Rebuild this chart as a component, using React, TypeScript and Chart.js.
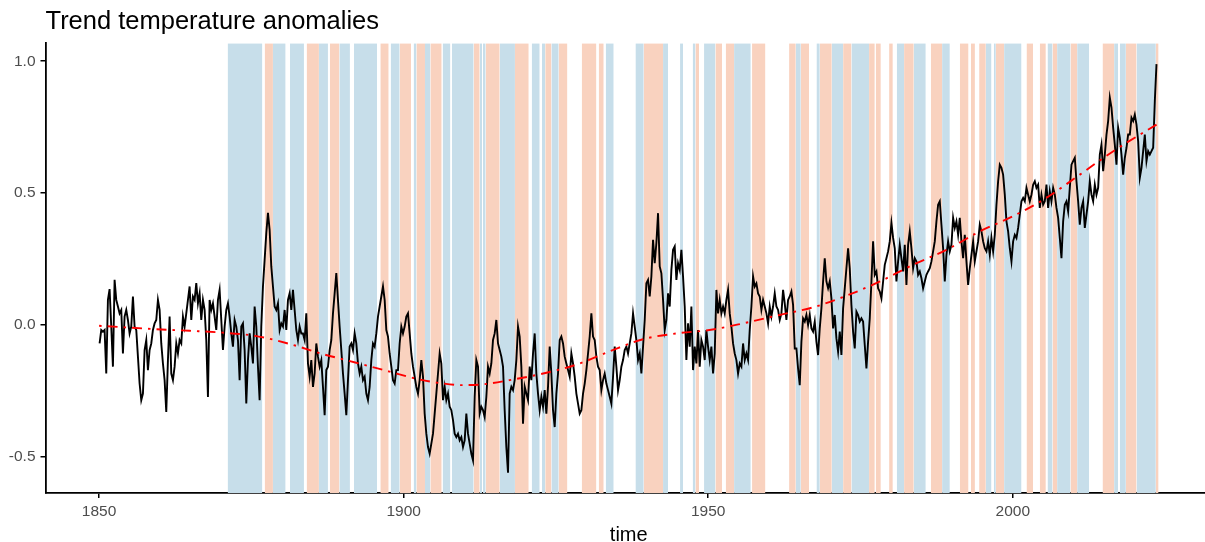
import React, { useEffect, useRef } from 'react';
import { Chart, registerables } from 'chart.js';

Chart.register(...registerables);

const TITLE = 'Trend temperature anomalies';
const X_LABEL = 'time';
const X_TICKS = [1850, 1900, 1950, 2000];
const Y_TICKS = [-0.5, 0.0, 0.5, 1.0];
const X_MIN = 1841.2;
const X_MAX = 2032.7;
const Y_MIN = -0.637;
const Y_MAX = 1.068;

// monthly-ish anomaly series, sampled at a regular time step from the picture
const SERIES_START = 1850.08;
const SERIES_STEP = 0.27367;
const ANOMALY = [
  -0.070, -0.019, -0.025, -0.019, -0.184, 0.095, 0.136, -0.006, -0.158, 0.171,
  0.095, 0.070, 0.044, 0.057, -0.108, 0.032, 0.057, 0.019, -0.032, -0.006,
  0.108, -0.006, -0.019, -0.120, -0.222, -0.285, -0.260, -0.095, -0.057, -0.171,
  -0.095, -0.070, -0.019, 0.006, 0.019, 0.095, 0.057, -0.070, -0.146, -0.209,
  -0.330, -0.133, 0.032, -0.184, -0.209, -0.158, -0.070, -0.108, -0.057, -0.070,
  0.032, -0.006, 0.044, 0.095, 0.146, 0.019, 0.108, 0.095, 0.159, 0.082,
  0.120, 0.019, 0.095, 0.057, -0.057, -0.273, 0.095, 0.057, 0.082, 0.032,
  -0.019, 0.095, 0.133, 0.019, -0.095, -0.006, 0.057, 0.082, 0.032, -0.032,
  -0.082, 0.019, -0.006, -0.057, -0.209, -0.006, 0.006, -0.095, -0.298, -0.133,
  -0.032, -0.082, -0.146, 0.070, -0.006, -0.158, -0.285, -0.006, 0.146, 0.247,
  0.349, 0.425, 0.361, 0.222, 0.146, 0.070, 0.057, 0.082, -0.019, 0.006,
  -0.006, 0.057, -0.019, 0.095, 0.120, 0.057, 0.133, 0.057, -0.019, -0.057,
  -0.006, -0.032, -0.032, -0.057, 0.044, -0.146, -0.196, -0.133, -0.235, -0.184,
  -0.070, -0.120, -0.158, -0.133, -0.235, -0.342, -0.171, -0.158, -0.095, -0.057,
  0.044, 0.120, 0.197, 0.095, -0.006, -0.095, -0.184, -0.260, -0.342, -0.209,
  -0.082, -0.070, -0.095, -0.032, -0.070, -0.146, -0.184, -0.158, -0.209, -0.196,
  -0.260, -0.285, -0.235, -0.133, -0.070, -0.082, -0.032, 0.032, 0.070, 0.108,
  0.146, 0.095, -0.019, -0.044, -0.108, -0.158, -0.209, -0.222, -0.171, -0.171,
  -0.070, -0.006, -0.032, -0.006, 0.032, 0.044, -0.032, -0.108, -0.158, -0.196,
  -0.235, -0.260,
  -0.209, -0.133, -0.196, -0.336, -0.412, -0.463, -0.488, -0.450, -0.412, -0.336,
  -0.260, -0.184, -0.108, -0.146, -0.285, -0.234, -0.285, -0.260, -0.310, -0.323,
  -0.361, -0.412, -0.425, -0.412, -0.437, -0.425, -0.463, -0.437, -0.336, -0.412,
  -0.450, -0.488, -0.513, -0.272, -0.133, -0.158, -0.336, -0.310, -0.323, -0.349,
  -0.272, -0.158, -0.184, -0.146, -0.057, -0.032, 0.019, -0.070, -0.095, -0.120,
  -0.158, -0.323, -0.463, -0.560, -0.260, -0.234, -0.247, -0.209, -0.133, -0.006,
  -0.044, -0.158, -0.374, -0.234, -0.260, -0.285, -0.158, -0.209, -0.108, -0.032,
  -0.184, -0.260, -0.323, -0.272, -0.310, -0.247, -0.336, -0.234, -0.082, -0.184,
  -0.323, -0.387, -0.260, -0.184, -0.057, -0.044, -0.070, -0.120, -0.146, -0.171,
  -0.196, -0.108, -0.146, -0.196, -0.260, -0.298, -0.336, -0.323, -0.260, -0.222,
  -0.171, -0.108, -0.044, 0.044, -0.044, -0.057, -0.120, -0.158, -0.171, -0.247,
  -0.209, -0.184, -0.222, -0.247, -0.272, -0.298, -0.196, -0.082, -0.158, -0.247,
  -0.209, -0.158, -0.133, -0.095, -0.082, -0.108, -0.070, -0.032, 0.044, -0.006,
  -0.057, -0.133, -0.108, -0.184, -0.082, 0.019, 0.158, 0.171, 0.108, 0.184,
  0.323, 0.234, 0.311, 0.424, 0.222, 0.196, 0.095, -0.019, 0.019, 0.120,
  0.070, 0.209, 0.285, 0.298, 0.171, 0.234, 0.209, 0.285, 0.184, 0.070,
  -0.133, 0.006, -0.082, 0.070, -0.171, -0.082, -0.146, -0.019, -0.158, -0.057,
  -0.082, -0.133, -0.019, -0.082, -0.133, -0.082, -0.184, -0.108, 0.133, 0.044,
  0.095, 0.044, 0.070, 0.044, 0.095, 0.133, 0.044, -0.006, -0.070, -0.108,
  -0.133, -0.184, -0.146, -0.158, -0.070, -0.133, -0.108, -0.133, -0.019, 0.070,
  0.184, 0.146, 0.158, 0.120, 0.108, 0.057, 0.095, 0.070, 0.044, 0.006,
  0.070, 0.032, 0.070, 0.120, 0.070, 0.057, 0.019, 0.044, 0.133, 0.082,
  0.019, 0.095, 0.108,
  0.127, 0.076, -0.089, -0.089, -0.165, -0.228, -0.063, 0.025, 0.013, 0.038,
  0.000, 0.038, -0.013, -0.025, 0.013, -0.063, -0.114, -0.013, 0.063, 0.165,
  0.253, 0.165, 0.139, 0.165, 0.101, -0.013, 0.038, -0.051, -0.101, -0.025,
  -0.114, 0.063, 0.139, 0.215, 0.291, 0.215, 0.076, -0.025, -0.089, 0.051,
  0.038, 0.013, 0.025, 0.013, -0.076, -0.165, -0.063, 0.025, 0.165, 0.317,
  0.190, 0.203, 0.139, 0.127, 0.101, 0.165, 0.228, 0.253, 0.279, 0.317,
  0.387, 0.330, 0.291, 0.165, 0.241, 0.304, 0.253, 0.203, 0.304, 0.152,
  0.304, 0.355, 0.291, 0.215, 0.253, 0.241, 0.190, 0.203, 0.177, 0.139,
  0.165, 0.190, 0.203, 0.215, 0.241, 0.279, 0.317, 0.393, 0.456, 0.469,
  0.380, 0.291, 0.165, 0.266, 0.317, 0.279, 0.304, 0.406, 0.368, 0.393,
  0.342, 0.406, 0.317, 0.253, 0.342, 0.241, 0.152, 0.215, 0.266, 0.317,
  0.241, 0.279, 0.317, 0.380, 0.355, 0.317, 0.291, 0.279, 0.317, 0.266,
  0.330, 0.279, 0.342, 0.456, 0.545, 0.608, 0.596, 0.570, 0.494, 0.393,
  0.355, 0.291, 0.241, 0.317, 0.342, 0.330, 0.368, 0.418, 0.469, 0.482,
  0.469, 0.520, 0.494, 0.469, 0.494, 0.532, 0.545, 0.520, 0.532, 0.444,
  0.494, 0.456, 0.469, 0.532, 0.444, 0.507, 0.469, 0.520, 0.494, 0.444,
  0.406, 0.330, 0.253, 0.393, 0.456, 0.469, 0.431, 0.520, 0.608, 0.621,
  0.634, 0.545, 0.469, 0.380, 0.444, 0.469, 0.368, 0.418, 0.469, 0.545,
  0.494, 0.469, 0.532, 0.494, 0.520, 0.646, 0.684, 0.583, 0.646, 0.722,
  0.773, 0.862, 0.824, 0.748, 0.684, 0.608, 0.748, 0.710, 0.646, 0.570,
  0.634, 0.672, 0.722, 0.722, 0.786, 0.773, 0.798, 0.760, 0.697, 0.558,
  0.596, 0.659, 0.722, 0.621, 0.659, 0.646, 0.659, 0.672, 0.849, 0.989,
];

// smooth trend (red dot-dash)
const TREND_YEARS = [
  1850.0, 1859.4, 1864.9, 1870.3, 1875.8, 1881.3, 1886.7, 1892.2, 1897.7, 1902.3,
  1906.5, 1909.5, 1913.0, 1917.4, 1922.9, 1928.4, 1933.8, 1939.3, 1944.8, 1950.2,
  1955.7, 1961.7, 1967.2, 1972.7, 1978.2, 1983.6, 1989.1, 1994.6, 2000.0, 2005.5,
  2011.0, 2016.5, 2023.6,
];
const TREND_VALUES = [
  -0.003, -0.016, -0.022, -0.029, -0.042, -0.072, -0.110, -0.143, -0.177, -0.205,
  -0.222, -0.228, -0.225, -0.209, -0.184, -0.150, -0.100, -0.054, -0.032, -0.019,
  0.006, 0.038, 0.067, 0.111, 0.165, 0.228, 0.285, 0.355, 0.412, 0.482,
  0.570, 0.659, 0.760,
];

// ENSO phase bands: start year, end year, phase
const BAND_STARTS = [
  1871.10, 1877.18, 1878.54, 1881.33, 1884.07, 1886.09, 1887.90, 1889.44, 1891.84, 1896.17,
  1897.87, 1899.34, 1901.64, 1902.09, 1903.50, 1904.38, 1906.40, 1907.93, 1911.49, 1912.48,
  1913.02, 1913.46, 1915.76, 1918.27, 1921.02, 1922.71, 1923.24, 1924.25, 1925.45, 1929.23,
  1932.02, 1933.17, 1938.05, 1939.41, 1942.58, 1945.37, 1947.45, 1947.90, 1949.31, 1951.18,
  1952.87, 1954.24, 1957.19, 1963.27, 1964.37, 1965.19, 1967.77, 1968.31, 1970.28, 1972.14,
  1973.51, 1976.40, 1977.50, 1979.69, 1980.95, 1982.15, 1983.74, 1986.54, 1988.39, 1991.30,
  1993.13, 1994.47, 1995.57, 1996.88, 1997.21, 1998.57, 2002.25, 2004.43, 2005.70, 2006.52,
  2007.27, 2009.47, 2010.56, 2014.73, 2016.63, 2017.57, 2018.56, 2020.31, 2023.48,
];
const BAND_ENDS = [
  1876.80, 1878.54, 1880.62, 1883.63, 1886.09, 1887.57, 1889.44, 1891.18, 1895.62, 1897.54,
  1899.34, 1901.20, 1902.09, 1903.50, 1904.38, 1906.24, 1907.67, 1911.49, 1912.48, 1912.86,
  1913.46, 1915.76, 1918.27, 1920.53, 1922.33, 1923.24, 1924.25, 1925.45, 1926.88, 1931.64,
  1932.84, 1934.48, 1939.41, 1942.58, 1943.40, 1945.86, 1947.90, 1948.49, 1951.18, 1952.27,
  1954.24, 1956.98, 1959.39, 1964.37, 1965.19, 1966.55, 1968.31, 1970.28, 1972.14, 1973.51,
  1976.40, 1977.34, 1978.33, 1980.30, 1982.15, 1983.74, 1985.71, 1988.39, 1989.66, 1992.73,
  1993.78, 1995.57, 1996.50, 1997.21, 1998.57, 2001.43, 2003.33, 2005.42, 2006.52, 2007.27,
  2009.47, 2010.56, 2012.53, 2016.63, 2017.29, 2018.56, 2020.31, 2023.48, 2023.93,
];
const BAND_PHASES = [
  'cold', 'warm', 'cold', 'cold', 'warm', 'cold', 'warm', 'cold', 'cold', 'warm',
  'cold', 'warm', 'cold', 'warm', 'cold', 'warm', 'cold', 'cold', 'warm', 'cold',
  'cold', 'warm', 'cold', 'warm', 'cold', 'cold', 'warm', 'cold', 'warm', 'warm',
  'warm', 'cold', 'cold', 'warm', 'cold', 'cold', 'cold', 'warm', 'cold', 'warm',
  'warm', 'cold', 'warm', 'warm', 'cold', 'warm', 'cold', 'warm', 'cold', 'warm',
  'cold', 'warm', 'warm', 'warm', 'cold', 'warm', 'cold', 'warm', 'cold', 'warm',
  'warm', 'warm', 'cold', 'cold', 'warm', 'cold', 'warm', 'warm', 'cold', 'warm',
  'cold', 'warm', 'cold', 'warm', 'cold', 'cold', 'warm', 'cold', 'warm',
];

const COLD_FILL = '#C7DEEA';
const WARM_FILL = '#F9D2BF';
const FONT = '"Liberation Sans", Arial, Helvetica, sans-serif';

export default function App() {
  const canvasRef = useRef<HTMLCanvasElement | null>(null);

  useEffect(() => {
    const canvas = canvasRef.current;
    if (!canvas) return;

    const bandSets = BAND_STARTS.map((s, i) => ({
      type: 'line' as const,
      data: [
        { x: s, y: Y_MAX },
        { x: BAND_ENDS[i], y: Y_MAX },
      ],
      borderColor: 'rgba(0,0,0,0)',
      borderWidth: 0,
      pointRadius: 0,
      fill: 'start',
      backgroundColor: BAND_PHASES[i] === 'warm' ? WARM_FILL : COLD_FILL,
      order: 10,
    }));

    const anomalySet = {
      type: 'line' as const,
      data: ANOMALY.map((v, i) => ({ x: SERIES_START + i * SERIES_STEP, y: v })),
      borderColor: '#000000',
      borderWidth: 1.9,
      pointRadius: 0,
      fill: false,
      tension: 0,
      order: 1,
    };

    const trendSet = {
      type: 'line' as const,
      data: TREND_YEARS.map((x, i) => ({ x, y: TREND_VALUES[i] })),
      borderColor: '#FF0000',
      borderWidth: 1.9,
      borderDash: [2.5, 6, 10, 6],
      pointRadius: 0,
      fill: false,
      cubicInterpolationMode: 'monotone' as const,
      order: 0,
    };

    const chart = new Chart(canvas, {
      type: 'line',
      data: { datasets: [...bandSets, anomalySet, trendSet] as any },
      options: {
        animation: false,
        responsive: false,
        devicePixelRatio: 1,
        layout: { padding: { top: 0, left: 0, right: 7, bottom: 0 } },
        plugins: {
          legend: { display: false },
          tooltip: { enabled: false },
          title: {
            display: true,
            text: TITLE,
            align: 'start',
            fullSize: false,
            color: '#000000',
            font: { family: FONT, size: 25.5, weight: 'normal', lineHeight: 1.2 },
            padding: { top: 6.5, bottom: 6.2 },
          },
        },
        scales: {
          x: {
            type: 'linear',
            min: X_MIN,
            max: X_MAX,
            afterBuildTicks: (axis: any) => {
              axis.ticks = X_TICKS.map((v) => ({ value: v }));
            },
            afterFit: (axis: any) => {
              axis.height = 49;
            },
            ticks: {
              callback: (v: any) => String(v),
              color: '#4D4D4D',
              font: { family: FONT, size: 15.5 },
              padding: 4,
              maxRotation: 0,
              autoSkip: false,
            },
            grid: {
              drawOnChartArea: false,
              drawTicks: true,
              tickLength: 5,
              color: '#000000',
              lineWidth: 1.5,
            },
            border: { display: true, color: '#000000', width: 1.8 },
            title: {
              display: true,
              text: X_LABEL,
              color: '#000000',
              font: { family: FONT, size: 20, lineHeight: 1.0 },
              padding: { top: 0, bottom: -3 },
            },
          },
          y: {
            type: 'linear',
            min: Y_MIN,
            max: Y_MAX,
            afterBuildTicks: (axis: any) => {
              axis.ticks = Y_TICKS.map((v) => ({ value: v }));
            },
            afterFit: (axis: any) => {
              axis.width = 45.5;
            },
            ticks: {
              callback: (v: any) => Number(v).toFixed(1),
              color: '#4D4D4D',
              font: { family: FONT, size: 15.5 },
              padding: 5,
              autoSkip: false,
            },
            grid: {
              drawOnChartArea: false,
              drawTicks: true,
              tickLength: 5,
              color: '#000000',
              lineWidth: 1.5,
            },
            border: { display: true, color: '#000000', width: 1.8 },
          },
        },
      },
    });

    return () => {
      chart.destroy();
    };
  }, []);

  return (
    <div
      style={{
        position: 'fixed',
        left: 0,
        top: 0,
        width: 1205,
        height: 542,
        overflow: 'hidden',
        background: '#FFFFFF',
      }}
    >
      <canvas ref={canvasRef} width={1219} height={542} style={{ display: 'block' }} />
    </div>
  );
}
